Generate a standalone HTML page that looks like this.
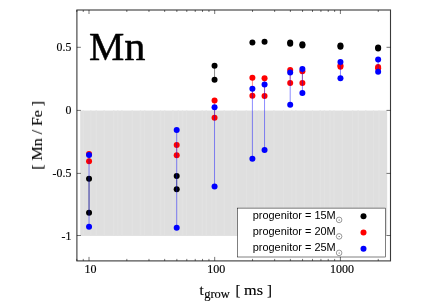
<!DOCTYPE html>
<html><head><meta charset="utf-8"><title>Mn</title>
<style>html,body{margin:0;padding:0;background:#fff;overflow:hidden}svg{display:block}text{will-change:transform}text{font-family:"Liberation Serif",serif;fill:#000}.s{font-family:"Liberation Sans",sans-serif}</style>
</head><body>
<svg width="436" height="305" viewBox="0 0 436 305">
<rect x="0" y="0" width="436" height="305" fill="#fff"/>
<rect x="80.2" y="110.55" width="306.95" height="125.35" fill="#dfdfdf"/>
<g stroke="#e2e2e2" stroke-width="1.4">
<line x1="83.2" y1="110.55" x2="83.2" y2="235.9"/>
<line x1="90.8" y1="110.55" x2="90.8" y2="235.9"/>
<line x1="96.3" y1="110.55" x2="96.3" y2="235.9"/>
<line x1="104.1" y1="110.55" x2="104.1" y2="235.9"/>
<line x1="113.7" y1="110.55" x2="113.7" y2="235.9"/>
<line x1="117.8" y1="110.55" x2="117.8" y2="235.9"/>
<line x1="121.9" y1="110.55" x2="121.9" y2="235.9"/>
<line x1="132.2" y1="110.55" x2="132.2" y2="235.9"/>
<line x1="140.5" y1="110.55" x2="140.5" y2="235.9"/>
<line x1="144.6" y1="110.55" x2="144.6" y2="235.9"/>
<line x1="152.2" y1="110.55" x2="152.2" y2="235.9"/>
<line x1="160.5" y1="110.55" x2="160.5" y2="235.9"/>
<line x1="164.6" y1="110.55" x2="164.6" y2="235.9"/>
<line x1="172.9" y1="110.55" x2="172.9" y2="235.9"/>
<line x1="178.4" y1="110.55" x2="178.4" y2="235.9"/>
<line x1="182.5" y1="110.55" x2="182.5" y2="235.9"/>
<line x1="186.6" y1="110.55" x2="186.6" y2="235.9"/>
<line x1="194.4" y1="110.55" x2="194.4" y2="235.9"/>
<line x1="202.2" y1="110.55" x2="202.2" y2="235.9"/>
<line x1="206.3" y1="110.55" x2="206.3" y2="235.9"/>
<line x1="211.8" y1="110.55" x2="211.8" y2="235.9"/>
<line x1="215.9" y1="110.55" x2="215.9" y2="235.9"/>
<line x1="224.2" y1="110.55" x2="224.2" y2="235.9"/>
<line x1="232.0" y1="110.55" x2="232.0" y2="235.9"/>
<line x1="236.1" y1="110.55" x2="236.1" y2="235.9"/>
<line x1="246.4" y1="110.55" x2="246.4" y2="235.9"/>
<line x1="254.7" y1="110.55" x2="254.7" y2="235.9"/>
<line x1="258.8" y1="110.55" x2="258.8" y2="235.9"/>
<line x1="264.3" y1="110.55" x2="264.3" y2="235.9"/>
<line x1="273.9" y1="110.55" x2="273.9" y2="235.9"/>
<line x1="283.5" y1="110.55" x2="283.5" y2="235.9"/>
<line x1="291.8" y1="110.55" x2="291.8" y2="235.9"/>
<line x1="295.9" y1="110.55" x2="295.9" y2="235.9"/>
<line x1="304.2" y1="110.55" x2="304.2" y2="235.9"/>
<line x1="312.5" y1="110.55" x2="312.5" y2="235.9"/>
<line x1="320.3" y1="110.55" x2="320.3" y2="235.9"/>
<line x1="324.4" y1="110.55" x2="324.4" y2="235.9"/>
<line x1="329.9" y1="110.55" x2="329.9" y2="235.9"/>
<line x1="334.0" y1="110.55" x2="334.0" y2="235.9"/>
<line x1="342.3" y1="110.55" x2="342.3" y2="235.9"/>
<line x1="352.6" y1="110.55" x2="352.6" y2="235.9"/>
<line x1="358.1" y1="110.55" x2="358.1" y2="235.9"/>
<line x1="365.7" y1="110.55" x2="365.7" y2="235.9"/>
<line x1="373.5" y1="110.55" x2="373.5" y2="235.9"/>
<line x1="379.0" y1="110.55" x2="379.0" y2="235.9"/>
</g>
<g fill="#000" stroke="none">
<line x1="89.04" y1="178.70" x2="89.04" y2="212.70" stroke="#000" stroke-width="0.46"/>
<circle cx="89.04" cy="178.70" r="3.0"/>
<circle cx="89.04" cy="212.70" r="3.0"/>
<line x1="176.70" y1="175.90" x2="176.70" y2="189.25" stroke="#000" stroke-width="0.46"/>
<circle cx="176.70" cy="175.90" r="3.0"/>
<circle cx="176.70" cy="189.25" r="3.0"/>
<line x1="214.55" y1="65.85" x2="214.55" y2="79.70" stroke="#000" stroke-width="0.46"/>
<circle cx="214.55" cy="65.85" r="3.0"/>
<circle cx="214.55" cy="79.70" r="3.0"/>
<circle cx="252.40" cy="42.60" r="3.0"/>
<circle cx="264.55" cy="41.80" r="3.0"/>
<line x1="290.20" y1="42.55" x2="290.20" y2="43.80" stroke="#000" stroke-width="0.46"/>
<circle cx="290.20" cy="42.55" r="3.0"/>
<circle cx="290.20" cy="43.80" r="3.0"/>
<line x1="302.40" y1="44.15" x2="302.40" y2="45.45" stroke="#000" stroke-width="0.46"/>
<circle cx="302.40" cy="44.15" r="3.0"/>
<circle cx="302.40" cy="45.45" r="3.0"/>
<line x1="340.45" y1="45.60" x2="340.45" y2="46.80" stroke="#000" stroke-width="0.46"/>
<circle cx="340.45" cy="45.60" r="3.0"/>
<circle cx="340.45" cy="46.80" r="3.0"/>
<line x1="378.14" y1="47.40" x2="378.14" y2="48.60" stroke="#000" stroke-width="0.46"/>
<circle cx="378.14" cy="47.40" r="3.0"/>
<circle cx="378.14" cy="48.60" r="3.0"/>
</g>
<g fill="#f00" stroke="none">
<line x1="89.04" y1="154.00" x2="89.04" y2="161.30" stroke="#f00" stroke-width="0.46"/>
<circle cx="89.04" cy="154.00" r="3.0"/>
<circle cx="89.04" cy="161.30" r="3.0"/>
<line x1="176.70" y1="144.95" x2="176.70" y2="155.20" stroke="#f00" stroke-width="0.46"/>
<circle cx="176.70" cy="144.95" r="3.0"/>
<circle cx="176.70" cy="155.20" r="3.0"/>
<line x1="214.55" y1="100.50" x2="214.55" y2="117.80" stroke="#f00" stroke-width="0.46"/>
<circle cx="214.55" cy="100.50" r="3.0"/>
<circle cx="214.55" cy="117.80" r="3.0"/>
<line x1="252.40" y1="77.80" x2="252.40" y2="95.80" stroke="#f00" stroke-width="0.46"/>
<circle cx="252.40" cy="77.80" r="3.0"/>
<circle cx="252.40" cy="95.80" r="3.0"/>
<line x1="264.55" y1="78.35" x2="264.55" y2="96.00" stroke="#f00" stroke-width="0.46"/>
<circle cx="264.55" cy="78.35" r="3.0"/>
<circle cx="264.55" cy="96.00" r="3.0"/>
<line x1="290.20" y1="69.90" x2="290.20" y2="83.05" stroke="#f00" stroke-width="0.46"/>
<circle cx="290.20" cy="69.90" r="3.0"/>
<circle cx="290.20" cy="83.05" r="3.0"/>
<line x1="302.40" y1="71.30" x2="302.40" y2="83.10" stroke="#f00" stroke-width="0.46"/>
<circle cx="302.40" cy="71.30" r="3.0"/>
<circle cx="302.40" cy="83.10" r="3.0"/>
<line x1="340.45" y1="65.40" x2="340.45" y2="66.80" stroke="#f00" stroke-width="0.46"/>
<circle cx="340.45" cy="65.40" r="3.0"/>
<circle cx="340.45" cy="66.80" r="3.0"/>
<line x1="378.14" y1="66.90" x2="378.14" y2="68.20" stroke="#f00" stroke-width="0.46"/>
<circle cx="378.14" cy="66.90" r="3.0"/>
<circle cx="378.14" cy="68.20" r="3.0"/>
</g>
<g fill="#00f" stroke="none">
<line x1="89.04" y1="155.10" x2="89.04" y2="226.80" stroke="#00f" stroke-width="0.46"/>
<circle cx="89.04" cy="155.10" r="3.0"/>
<circle cx="89.04" cy="226.80" r="3.0"/>
<line x1="176.70" y1="129.95" x2="176.70" y2="227.70" stroke="#00f" stroke-width="0.46"/>
<circle cx="176.70" cy="129.95" r="3.0"/>
<circle cx="176.70" cy="227.70" r="3.0"/>
<line x1="214.55" y1="107.20" x2="214.55" y2="186.50" stroke="#00f" stroke-width="0.46"/>
<circle cx="214.55" cy="107.20" r="3.0"/>
<circle cx="214.55" cy="186.50" r="3.0"/>
<line x1="252.40" y1="88.65" x2="252.40" y2="158.80" stroke="#00f" stroke-width="0.46"/>
<circle cx="252.40" cy="88.65" r="3.0"/>
<circle cx="252.40" cy="158.80" r="3.0"/>
<line x1="264.55" y1="84.55" x2="264.55" y2="150.00" stroke="#00f" stroke-width="0.46"/>
<circle cx="264.55" cy="84.55" r="3.0"/>
<circle cx="264.55" cy="150.00" r="3.0"/>
<line x1="290.20" y1="72.60" x2="290.20" y2="104.80" stroke="#00f" stroke-width="0.46"/>
<circle cx="290.20" cy="72.60" r="3.0"/>
<circle cx="290.20" cy="104.80" r="3.0"/>
<line x1="302.40" y1="69.05" x2="302.40" y2="92.90" stroke="#00f" stroke-width="0.46"/>
<circle cx="302.40" cy="69.05" r="3.0"/>
<circle cx="302.40" cy="92.90" r="3.0"/>
<line x1="340.45" y1="62.10" x2="340.45" y2="78.30" stroke="#00f" stroke-width="0.46"/>
<circle cx="340.45" cy="62.10" r="3.0"/>
<circle cx="340.45" cy="78.30" r="3.0"/>
<line x1="378.14" y1="59.60" x2="378.14" y2="71.70" stroke="#00f" stroke-width="0.46"/>
<circle cx="378.14" cy="59.60" r="3.0"/>
<circle cx="378.14" cy="71.70" r="3.0"/>
</g>
<rect x="237.4" y="208.1" width="148.10" height="48.90" fill="#fff" stroke="#000" stroke-width="0.5"/>
<text class="s" x="252.7" y="218.95" font-size="10.95">progenitor = 15M</text>
<circle cx="339.1" cy="219.9" r="2.8" fill="none" stroke="#000" stroke-width="0.4"/>
<circle cx="339.1" cy="219.9" r="0.5" fill="#222"/>
<circle cx="363.5" cy="216.15" r="3.0" fill="#000"/>
<text class="s" x="252.7" y="235.20" font-size="10.95">progenitor = 20M</text>
<circle cx="339.1" cy="236.4" r="2.8" fill="none" stroke="#000" stroke-width="0.4"/>
<circle cx="339.1" cy="236.4" r="0.5" fill="#222"/>
<circle cx="363.5" cy="232.45" r="3.0" fill="#f00"/>
<text class="s" x="252.7" y="251.45" font-size="10.95">progenitor = 25M</text>
<circle cx="339.1" cy="252.9" r="2.8" fill="none" stroke="#000" stroke-width="0.4"/>
<circle cx="339.1" cy="252.9" r="0.5" fill="#222"/>
<circle cx="363.5" cy="248.75" r="3.0" fill="#00f"/>
<rect x="76.9" y="10.0" width="313.60" height="250.90" fill="none" stroke="#3a3a3a" stroke-width="1.1"/>
<g stroke="#000" stroke-width="0.55">
<line x1="76.82" y1="260.9" x2="76.82" y2="258.9"/>
<line x1="76.82" y1="10.0" x2="76.82" y2="12.0"/>
<line x1="83.25" y1="260.9" x2="83.25" y2="258.9"/>
<line x1="83.25" y1="10.0" x2="83.25" y2="12.0"/>
<line x1="89.00" y1="260.9" x2="89.00" y2="256.9"/>
<line x1="89.00" y1="10.0" x2="89.00" y2="14.0"/>
<line x1="126.84" y1="260.9" x2="126.84" y2="258.9"/>
<line x1="126.84" y1="10.0" x2="126.84" y2="12.0"/>
<line x1="148.97" y1="260.9" x2="148.97" y2="258.9"/>
<line x1="148.97" y1="10.0" x2="148.97" y2="12.0"/>
<line x1="164.68" y1="260.9" x2="164.68" y2="258.9"/>
<line x1="164.68" y1="10.0" x2="164.68" y2="12.0"/>
<line x1="176.86" y1="260.9" x2="176.86" y2="258.9"/>
<line x1="176.86" y1="10.0" x2="176.86" y2="12.0"/>
<line x1="186.81" y1="260.9" x2="186.81" y2="258.9"/>
<line x1="186.81" y1="10.0" x2="186.81" y2="12.0"/>
<line x1="195.23" y1="260.9" x2="195.23" y2="258.9"/>
<line x1="195.23" y1="10.0" x2="195.23" y2="12.0"/>
<line x1="202.52" y1="260.9" x2="202.52" y2="258.9"/>
<line x1="202.52" y1="10.0" x2="202.52" y2="12.0"/>
<line x1="208.95" y1="260.9" x2="208.95" y2="258.9"/>
<line x1="208.95" y1="10.0" x2="208.95" y2="12.0"/>
<line x1="214.70" y1="260.9" x2="214.70" y2="256.9"/>
<line x1="214.70" y1="10.0" x2="214.70" y2="14.0"/>
<line x1="252.54" y1="260.9" x2="252.54" y2="258.9"/>
<line x1="252.54" y1="10.0" x2="252.54" y2="12.0"/>
<line x1="274.67" y1="260.9" x2="274.67" y2="258.9"/>
<line x1="274.67" y1="10.0" x2="274.67" y2="12.0"/>
<line x1="290.38" y1="260.9" x2="290.38" y2="258.9"/>
<line x1="290.38" y1="10.0" x2="290.38" y2="12.0"/>
<line x1="302.56" y1="260.9" x2="302.56" y2="258.9"/>
<line x1="302.56" y1="10.0" x2="302.56" y2="12.0"/>
<line x1="312.51" y1="260.9" x2="312.51" y2="258.9"/>
<line x1="312.51" y1="10.0" x2="312.51" y2="12.0"/>
<line x1="320.93" y1="260.9" x2="320.93" y2="258.9"/>
<line x1="320.93" y1="10.0" x2="320.93" y2="12.0"/>
<line x1="328.22" y1="260.9" x2="328.22" y2="258.9"/>
<line x1="328.22" y1="10.0" x2="328.22" y2="12.0"/>
<line x1="334.65" y1="260.9" x2="334.65" y2="258.9"/>
<line x1="334.65" y1="10.0" x2="334.65" y2="12.0"/>
<line x1="340.40" y1="260.9" x2="340.40" y2="256.9"/>
<line x1="340.40" y1="10.0" x2="340.40" y2="14.0"/>
<line x1="378.24" y1="260.9" x2="378.24" y2="258.9"/>
<line x1="378.24" y1="10.0" x2="378.24" y2="12.0"/>
<line x1="76.9" y1="47.30" x2="80.9" y2="47.30"/>
<line x1="390.5" y1="47.30" x2="386.5" y2="47.30"/>
<line x1="76.9" y1="110.40" x2="80.9" y2="110.40"/>
<line x1="390.5" y1="110.40" x2="386.5" y2="110.40"/>
<line x1="76.9" y1="173.40" x2="80.9" y2="173.40"/>
<line x1="390.5" y1="173.40" x2="386.5" y2="173.40"/>
<line x1="76.9" y1="235.50" x2="80.9" y2="235.50"/>
<line x1="390.5" y1="235.50" x2="386.5" y2="235.50"/>
</g>
<text x="71.3" y="51.2" font-size="11.8" text-anchor="end" stroke="#000" stroke-width="0.15">0.5</text>
<text x="71.3" y="113.8" font-size="11.8" text-anchor="end" stroke="#000" stroke-width="0.15">0</text>
<text x="71.3" y="177.0" font-size="11.8" text-anchor="end" stroke="#000" stroke-width="0.15">-0.5</text>
<text x="71.3" y="239.8" font-size="11.8" text-anchor="end" stroke="#000" stroke-width="0.15">-1</text>
<text x="90.6" y="273.1" font-size="12" text-anchor="middle" stroke="#000" stroke-width="0.15">10</text>
<text x="216.3" y="273.1" font-size="12" text-anchor="middle" stroke="#000" stroke-width="0.15">100</text>
<text x="342.0" y="273.1" font-size="12" text-anchor="middle" stroke="#000" stroke-width="0.15">1000</text>
<g font-size="39.2" stroke="#000" stroke-width="0.45">
<text x="88.9" y="59.7" textLength="35.3" lengthAdjust="spacingAndGlyphs">M</text>
<text x="124.3" y="59.7" textLength="21.2" lengthAdjust="spacingAndGlyphs">n</text>
</g>
<text transform="translate(42.0,169.7) rotate(-90) scale(1.08,1)" font-size="15" stroke="#000" stroke-width="0.12" textLength="63.7" lengthAdjust="spacing" xml:space="preserve">[ Mn / Fe ]</text>
<g font-size="15" stroke="#000" stroke-width="0.15">
<text x="199.4" y="294.6">t</text>
<text x="204.2" y="297.5" font-size="12.2" textLength="25.7" lengthAdjust="spacingAndGlyphs">grow</text>
<text x="235.4" y="294.6">[</text>
<text x="244.0" y="294.6" textLength="19.0" lengthAdjust="spacingAndGlyphs">ms</text>
<text x="271.9" y="294.6" text-anchor="end">]</text>
</g>
</svg></body></html>
